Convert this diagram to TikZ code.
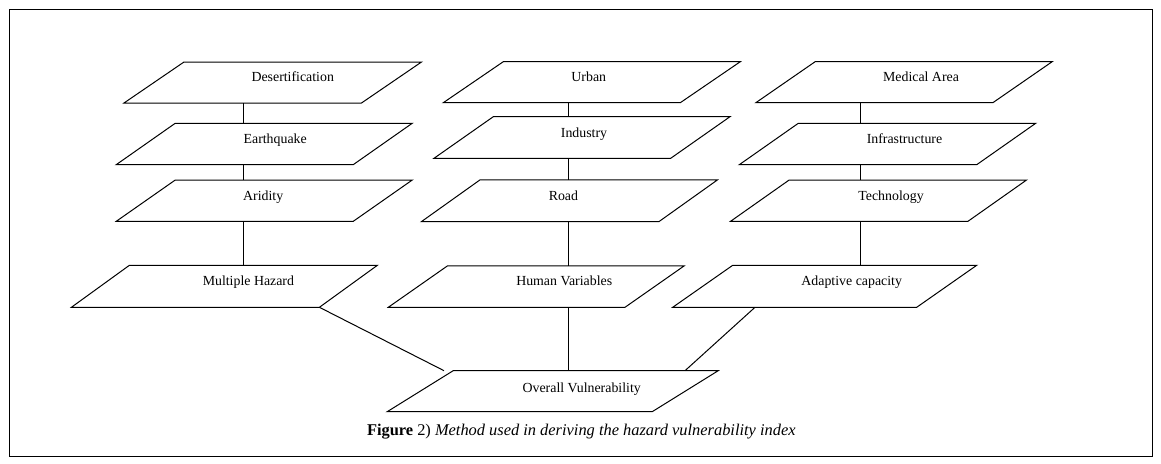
\documentclass[tikz,border=0pt]{standalone}
\usepackage{fontspec}
\setmainfont{Liberation Serif}
\usetikzlibrary{calc}
\begin{document}
\begin{tikzpicture}[x=0.75pt,y=-0.75pt,line width=0.75pt,
  para/.style n args={2}{minimum width=#1*0.75pt, minimum height=#2*0.75pt, inner sep=0pt, outer sep=0pt, draw=none},
  lbl/.style={font=\fontsize{10.4pt}{12pt}\selectfont, text height=1.5ex, text depth=.25ex, inner sep=0pt},
  link/.style={line width=0.75pt}]
\useasboundingbox (0,0) rectangle (1161,464);
\draw[line width=1pt] (9.5,9.5) rectangle (1152.5,456.5);
% column 1
\node[para={237.5}{41}, label={[lbl,xshift=15pt,yshift=3.5pt]center:Desertification}] (des) at (272.75,82.5) {};
\node[para={237}{41.4}, label={[lbl,xshift=8.25pt,yshift=3.5pt]center:Earthquake}] (eq) at (264.2,144) {};
\node[para={237}{41.3}, label={[lbl,xshift=-0.75pt,yshift=3.3pt]center:Aridity}] (ar) at (264.2,200.7) {};
\node[para={248}{42}, label={[lbl,xshift=18pt,yshift=3.2pt]center:Multiple Hazard}] (mh) at (224.4,286.3) {};
% column 2
\node[para={237}{41}, label={[lbl,xshift=-2.25pt,yshift=3.1pt]center:Urban}] (urb) at (591.8,82.2) {};
\node[para={236.7}{41.6}, label={[lbl,xshift=1.5pt,yshift=2.9pt]center:Industry}] (ind) at (582,137.5) {};
\node[para={237.5}{41.7}, label={[lbl,xshift=-4.5pt,yshift=3.35pt]center:Road}] (road) at (569.4,200.8) {};
\node[para={236.7}{41.3}, label={[lbl,xshift=21pt,yshift=3.5pt]center:Human Variables}] (hv) at (536.2,286.6) {};
% column 3
\node[para={237}{41}, label={[lbl,xshift=12.75pt,yshift=3.1pt]center:Medical Area}] (med) at (904,82.2) {};
\node[para={237.4}{41.4}, label={[lbl,xshift=12.75pt,yshift=3.3pt]center:Infrastructure}] (inf) at (887.5,144) {};
\node[para={237.4}{41.3}, label={[lbl,xshift=9.4pt,yshift=3.3pt]center:Technology}] (tech) at (878.5,200.7) {};
\node[para={244}{42}, label={[lbl,xshift=20.25pt,yshift=3.2pt]center:Adaptive capacity}] (ad) at (824.7,286.3) {};
% bottom
\node[para={265}{41}, label={[lbl,xshift=21.75pt,yshift=2pt]center:Overall Vulnerability}] (ov) at (552.7,391.2) {};
% parallelogram outlines
\foreach \n/\s in {des/60,eq/59,ar/59,mh/58,urb/60,ind/59.3,road/58.5,hv/59,med/59.3,inf/59,tech/58.6,ad/60,ov/66}
  \draw ([xshift=\s*0.375pt]\n.north west) -- ([xshift=\s*0.375pt]\n.north east)
     -- ([xshift=-\s*0.375pt]\n.south east) -- ([xshift=-\s*0.375pt]\n.south west) -- cycle;
% connector columns
\coordinate (x1) at (243.3,0);
\coordinate (x2) at (568.3,0);
\coordinate (x3) at (860.3,0);
\coordinate (xa) at (444,0);
\coordinate (xb) at (755,0);
\coordinate (xc) at (685,0);
\draw[link] (des.south -| x1) -- (eq.north -| x1);
\draw[link] (eq.south -| x1) -- (ar.north -| x1);
\draw[link] (ar.south -| x1) -- (mh.north -| x1);
\draw[link] (urb.south -| x2) -- (ind.north -| x2);
\draw[link] (ind.south -| x2) -- (road.north -| x2);
\draw[link] (road.south -| x2) -- (hv.north -| x2);
\draw[link] (med.south -| x3) -- (inf.north -| x3);
\draw[link] (inf.south -| x3) -- (tech.north -| x3);
\draw[link] (tech.south -| x3) -- (ad.north -| x3);
\draw[link] ([xshift=-21.75pt]mh.south east) -- (ov.north -| xa);
\draw[link] (hv.south -| x2) -- (ov.north -| x2);
\draw[link] (ad.south -| xb) -- (ov.north -| xc);
% caption
\node[anchor=base, font=\fontsize{12.3pt}{14pt}\selectfont, inner sep=0pt] (cap) at (581.3,435.7)
  {\textbf{Figure} 2) \textit{Method used in deriving the hazard vulnerability index}};
\end{tikzpicture}
\end{document}
